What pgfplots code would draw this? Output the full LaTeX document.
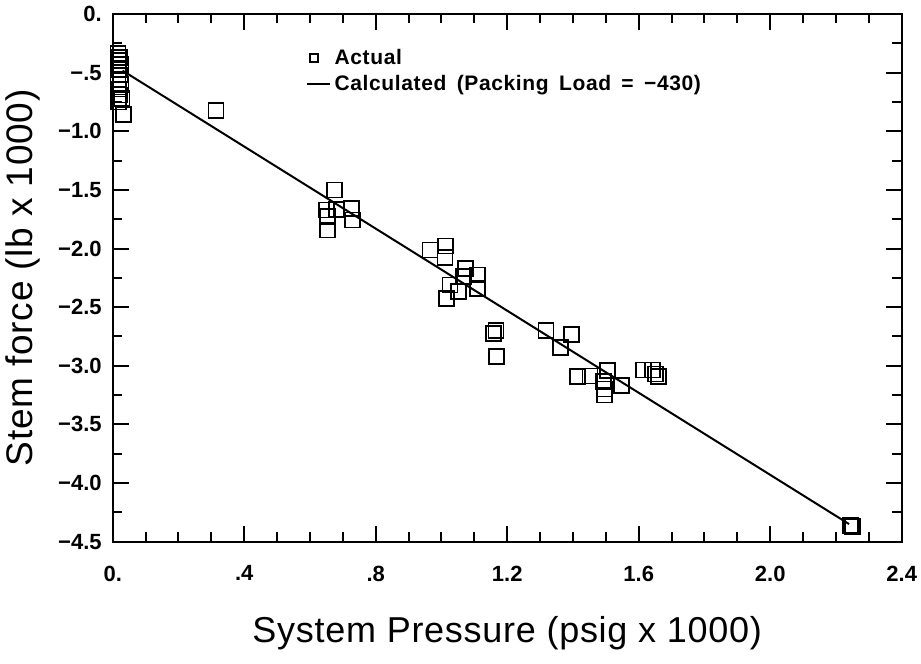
\documentclass[border=0pt]{standalone}
\usepackage{pgfplots}
\pgfplotsset{compat=1.18}
\usepackage{fontspec}
\setmainfont{Liberation Sans}
\newfontfamily\legfont{Liberation Sans}[LetterSpace=3, WordSpace=1.6]
\newfontfamily\labfont{Liberation Sans}[LetterSpace=2]
\usetikzlibrary{calc}
\begin{document}
\begin{tikzpicture}
\begin{axis}[
  scale only axis, width=394.5pt, height=263.85pt,
  xmin=0, xmax=2.4, ymin=-4.5, ymax=0,
  xtick={0,0.4,0.8,1.2,1.6,2.0,2.4},
  xticklabels={0.,.4,.8,1.2,1.6,2.0,2.4},
  ytick={-4.5,-4,-3.5,-3,-2.5,-2,-1.5,-1,-0.5,0},
  yticklabels={−4.5,−4.0,−3.5,−3.0,−2.5,−2.0,−1.5,−1.0,−.5,0.},
  minor x tick num=3, minor y tick num=1,
  tick align=inside,
  major tick length=8pt, minor tick length=4.75pt,
  axis line style={line width=1pt},
  every tick/.style={line width=1pt, black},
  ticklabel style={font=\fontsize{11}{13}\selectfont\bfseries},
  xticklabel style={yshift=-8.5pt},
  yticklabel style={xshift=-2pt},
  xlabel={System Pressure (psig x 1000)},
  ylabel={Stem force (lb x 1000)},
  xlabel style={at={(axis description cs:0.5,0)}, anchor=base, yshift=-50.5pt,
    font=\labfont\fontsize{18}{21}\selectfont},
  ylabel style={at={(axis description cs:-0.114,0.5)}, anchor=center,
    font=\labfont\fontsize{18.5}{21}\selectfont},
  legend cell align=left,
  legend style={at={(axis description cs:0.244,0.942)}, anchor=north west, draw=none, fill=none, inner sep=0pt,
    font=\legfont\fontsize{10.5}{12}\selectfont\bfseries, row sep=0pt},
]
\addlegendimage{legend image code/.code={\path (0pt,0pt) (11.5pt,0pt); \draw[line width=0.8pt] (1.8pt,-1.8pt) rectangle (5.8pt,2.2pt);}}
\addlegendentry{Actual}
\addlegendimage{legend image code/.code={\draw[line width=1pt] (0pt,0pt) -- (11.5pt,0pt);}}
\addlegendentry{Calculated (Packing Load = −430)}

\addplot[only marks, mark=square, mark size=3.75pt, mark options={line width=0.9pt, black}, forget plot] table {
x y
0.016 -0.34
0.020 -0.37
0.016 -0.40
0.025 -0.43
0.018 -0.47
0.022 -0.52
0.016 -0.56
0.025 -0.60
0.018 -0.64
0.022 -0.69
0.028 -0.72
0.018 -0.75
0.032 -0.86
0.314 -0.824
0.674 -1.501
0.651 -1.672
0.681 -1.665
0.727 -1.657
0.729 -1.757
0.653 -1.842
0.654 -1.728
0.965 -2.012
1.013 -1.978
1.011 -2.075
1.072 -2.168
1.110 -2.226
1.110 -2.339
1.026 -2.311
1.051 -2.368
1.016 -2.424
1.066 -2.240
1.166 -2.701
1.158 -2.723
1.168 -2.922
1.318 -2.701
1.396 -2.731
1.361 -2.846
1.413 -3.093
1.452 -3.087
1.506 -3.042
1.495 -3.198
1.497 -3.249
1.548 -3.170
1.492 -3.136
1.614 -3.036
1.641 -3.036
1.660 -3.093
1.650 -3.070
2.251 -4.372
2.245 -4.360
};
\addplot[line width=1pt, black, forget plot] coordinates {(0.03,-0.483) (2.24,-4.35)};
\end{axis}
\pgfresetboundingbox
\path[use as bounding box] ($(current axis.south west)+(-56.35pt,-61.15pt)$) rectangle ($(current axis.north east)+(9.65pt,7pt)$);
\end{tikzpicture}
\end{document}
